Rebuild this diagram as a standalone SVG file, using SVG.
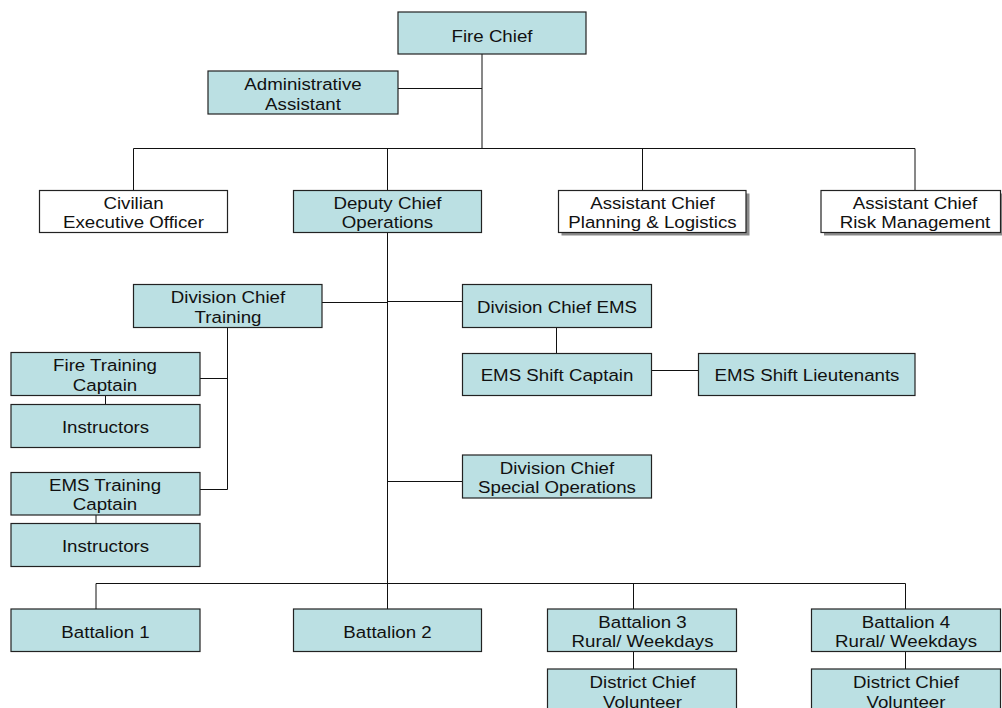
<svg xmlns="http://www.w3.org/2000/svg" width="1002" height="708" viewBox="0 0 1002 708">
  <style>
    .box { fill: #bbe0e3; stroke: #222; stroke-width: 1.2; }
    .plain { fill: #ffffff; stroke: #222; stroke-width: 1.2; }
    .shadow { fill: #8a8a8a; stroke: none; }
    .lbl { font-family: "Liberation Sans", Arial, sans-serif; font-size: 17px; fill: #111; text-anchor: middle; }
    .wire { fill: none; stroke: #111; stroke-width: 1; }
  </style>
  <rect width="1002" height="708" fill="#ffffff"/>

  <!-- reporting lines -->
  <g id="connectors" class="wire">
    <path d="M482 54 V148.5"/>
    <path d="M398 88.5 H482"/>
    <path d="M133.5 148.5 H915"/>
    <path d="M133.5 148.5 V190.5 M387.5 148.5 V190.5 M642.5 148.5 V190.5 M915 148.5 V190.5"/>
    <path d="M387.5 232.5 V583.5"/>
    <path d="M322 302.5 H387.5"/>
    <path d="M387.5 301.5 H462.5"/>
    <path d="M556.5 327.5 V353.5"/>
    <path d="M651.5 370.5 H698.5"/>
    <path d="M227.5 327.5 V489.5 H200"/>
    <path d="M200 378.5 H227.5"/>
    <path d="M105.5 395.5 V404.5"/>
    <path d="M96 515 V523.5"/>
    <path d="M387.5 481.5 H462.5"/>
    <path d="M96 583.5 H905.5"/>
    <path d="M96 583.5 V609 M387.5 583.5 V609 M633.5 583.5 V609 M905.5 583.5 V609"/>
    <path d="M633.5 651.5 V669 M905.5 651.5 V669"/>
  </g>

  <g id="fire-chief">
    <rect class="box" x="398" y="12" width="188" height="42"/>
    <text class="lbl" transform="translate(492,0) scale(1.1,1)"><tspan x="0" y="42">Fire Chief</tspan></text>
  </g>
  <g id="administrative-assistant">
    <rect class="box" x="208" y="71" width="190" height="43"/>
    <text class="lbl" transform="translate(303,0) scale(1.1,1)"><tspan x="0" y="90.5">Administrative</tspan><tspan x="0" y="110">Assistant</tspan></text>
  </g>
  <g id="civilian-executive-officer">
    <rect class="plain" x="39.5" y="190.5" width="188" height="42"/>
    <text class="lbl" transform="translate(133.5,0) scale(1.1,1)"><tspan x="0" y="209">Civilian</tspan><tspan x="0" y="228.5">Executive Officer</tspan></text>
  </g>
  <g id="deputy-chief-operations">
    <rect class="box" x="293.5" y="190.5" width="188" height="42"/>
    <text class="lbl" transform="translate(387.5,0) scale(1.1,1)"><tspan x="0" y="209">Deputy Chief</tspan><tspan x="0" y="228.5">Operations</tspan></text>
  </g>
  <g id="assistant-chief-planning">
    <rect class="shadow" x="561.5" y="193.5" width="188" height="42"/>
    <rect class="plain" x="558.5" y="190.5" width="187.5" height="42"/>
    <text class="lbl" transform="translate(652.5,0) scale(1.1,1)"><tspan x="0" y="209">Assistant Chief</tspan><tspan x="0" y="228.5">Planning &amp; Logistics</tspan></text>
  </g>
  <g id="assistant-chief-risk">
    <rect class="shadow" x="824" y="193.5" width="180" height="42"/>
    <rect class="plain" x="821" y="190.5" width="179.5" height="42"/>
    <text class="lbl" transform="translate(915,0) scale(1.1,1)"><tspan x="0" y="209">Assistant Chief</tspan><tspan x="0" y="228.5">Risk Management</tspan></text>
  </g>

  <g id="division-chief-training">
    <rect class="box" x="133.5" y="284.5" width="188.5" height="43"/>
    <text class="lbl" transform="translate(228,0) scale(1.1,1)"><tspan x="0" y="303.5">Division Chief</tspan><tspan x="0" y="323">Training</tspan></text>
  </g>
  <g id="division-chief-ems">
    <rect class="box" x="462.5" y="284.5" width="189" height="43"/>
    <text class="lbl" transform="translate(557,0) scale(1.1,1)"><tspan x="0" y="313.5">Division Chief EMS</tspan></text>
  </g>
  <g id="ems-shift-captain">
    <rect class="box" x="462.5" y="353.5" width="189" height="42"/>
    <text class="lbl" transform="translate(557,0) scale(1.1,1)"><tspan x="0" y="381">EMS Shift Captain</tspan></text>
  </g>
  <g id="ems-shift-lieutenants">
    <rect class="box" x="698.5" y="353.5" width="216.5" height="42"/>
    <text class="lbl" transform="translate(807,0) scale(1.1,1)"><tspan x="0" y="381">EMS Shift Lieutenants</tspan></text>
  </g>

  <g id="fire-training-captain">
    <rect class="box" x="11" y="352.5" width="189" height="43"/>
    <text class="lbl" transform="translate(105,0) scale(1.1,1)"><tspan x="0" y="371.5">Fire Training</tspan><tspan x="0" y="391">Captain</tspan></text>
  </g>
  <g id="fire-instructors">
    <rect class="box" x="11" y="404.5" width="189" height="43"/>
    <text class="lbl" transform="translate(105.5,0) scale(1.1,1)"><tspan x="0" y="433.5">Instructors</tspan></text>
  </g>
  <g id="ems-training-captain">
    <rect class="box" x="11" y="472.5" width="189" height="42.5"/>
    <text class="lbl" transform="translate(105,0) scale(1.1,1)"><tspan x="0" y="491">EMS Training</tspan><tspan x="0" y="510.5">Captain</tspan></text>
  </g>
  <g id="ems-instructors">
    <rect class="box" x="11" y="523.5" width="189" height="43"/>
    <text class="lbl" transform="translate(105.5,0) scale(1.1,1)"><tspan x="0" y="552.5">Instructors</tspan></text>
  </g>

  <g id="division-chief-special-operations">
    <rect class="box" x="462.5" y="455" width="189" height="43"/>
    <text class="lbl" transform="translate(557,0) scale(1.1,1)"><tspan x="0" y="474">Division Chief</tspan><tspan x="0" y="493.5">Special Operations</tspan></text>
  </g>

  <g id="battalion-1">
    <rect class="box" x="11" y="609" width="189" height="42.5"/>
    <text class="lbl" transform="translate(105.5,0) scale(1.1,1)"><tspan x="0" y="638.5">Battalion 1</tspan></text>
  </g>
  <g id="battalion-2">
    <rect class="box" x="293.5" y="609" width="188" height="42.5"/>
    <text class="lbl" transform="translate(387.5,0) scale(1.1,1)"><tspan x="0" y="638.5">Battalion 2</tspan></text>
  </g>
  <g id="battalion-3">
    <rect class="box" x="547.5" y="609" width="189" height="42.5"/>
    <text class="lbl" transform="translate(642.5,0) scale(1.1,1)"><tspan x="0" y="628">Battalion 3</tspan><tspan x="0" y="647.5">Rural/ Weekdays</tspan></text>
  </g>
  <g id="battalion-4">
    <rect class="box" x="811.5" y="609" width="189" height="42.5"/>
    <text class="lbl" transform="translate(906,0) scale(1.1,1)"><tspan x="0" y="628">Battalion 4</tspan><tspan x="0" y="647.5">Rural/ Weekdays</tspan></text>
  </g>
  <g id="district-chief-volunteer-3">
    <rect class="box" x="547.5" y="669" width="189" height="43"/>
    <text class="lbl" transform="translate(642.5,0) scale(1.1,1)"><tspan x="0" y="688.5">District Chief</tspan><tspan x="0" y="708">Volunteer</tspan></text>
  </g>
  <g id="district-chief-volunteer-4">
    <rect class="box" x="811.5" y="669" width="189" height="43"/>
    <text class="lbl" transform="translate(906,0) scale(1.1,1)"><tspan x="0" y="688.5">District Chief</tspan><tspan x="0" y="708">Volunteer</tspan></text>
  </g>
</svg>
